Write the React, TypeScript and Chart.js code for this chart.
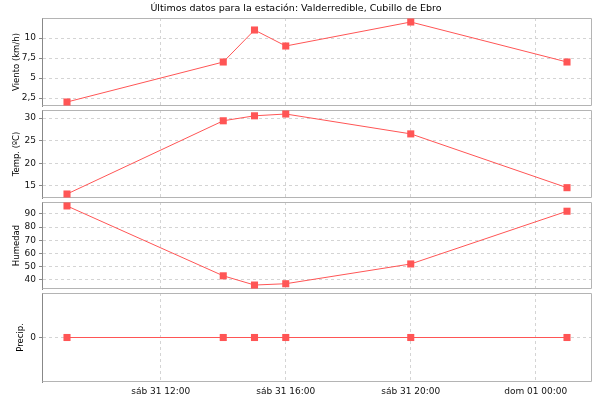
import React, { useEffect, useRef } from "react";
import { Chart, registerables } from "chart.js";

Chart.register(...registerables);

const TITLE = "Últimos datos para la estación: Valderredible, Cubillo de Ebro";

// hours since 00:00 of "sáb 31"
const hours = [9, 14, 15, 16, 20, 25];
const viento = [2, 7, 11, 9, 12, 7];
const temperatura = [13.2, 29.4, 30.5, 30.9, 26.5, 14.6];
const humedad = [96, 43, 36, 37, 52, 92];
const precipitacion = [0, 0, 0, 0, 0, 0];

const xTickValues = [12, 16, 20, 24];
const xTickLabels = ["sáb 31 12:00", "sáb 31 16:00", "sáb 31 20:00", "dom 01 00:00"];

const vientoTicks = [2.5, 5, 7.5, 10];
const vientoTickLabels = ["2,5", "5", "7,5", "10"];
const tempTicks = [15, 20, 25, 30];
const tempTickLabels = ["15", "20", "25", "30"];
const humTicks = [40, 50, 60, 70, 80, 90];
const humTickLabels = ["40", "50", "60", "70", "80", "90"];
const precipTicks = [0];
const precipTickLabels = ["0"];

const FONT = "'DejaVu Sans', Verdana, sans-serif";
const RED = "#ff5555";
const GRID = "#d4d4d4";
const FRAME = "#b4b4b4";
const TEXT = "#111";

const X_MIN = 8.2;
const X_MAX = 25.8;

type Panel = {
  label: string;
  values: number[];
  ticks: number[];
  tickLabels: string[];
  min: number;
  max: number;
  top: number;
  height: number;
  padTop: number;
  padBottom: number;
  titlePad: number;
  showTitle: boolean;
  showX: boolean;
};

function autoRange(vals: number[]): [number, number] {
  const lo = Math.min(...vals);
  const hi = Math.max(...vals);
  if (hi === lo) return [lo - 1, hi + 1];
  const m = (hi - lo) * 0.05;
  return [lo - m, hi + m];
}

const [vMin, vMax] = autoRange(viento);
const [tMin, tMax] = autoRange(temperatura);
const [hMin, hMax] = autoRange(humedad);
const [pMin, pMax] = autoRange(precipitacion);

const panels: Panel[] = [
  { label: "Viento (km/h)", values: viento, ticks: vientoTicks, tickLabels: vientoTickLabels, min: vMin, max: vMax, top: 0, height: 107, padTop: 0, padBottom: 1, titlePad: 12, showTitle: true, showX: false },
  { label: "Temp. (ºC)", values: temperatura, ticks: tempTicks, tickLabels: tempTickLabels, min: tMin, max: tMax, top: 109, height: 90, padTop: 1, padBottom: 1, titlePad: 12, showTitle: false, showX: false },
  { label: "Humedad", values: humedad, ticks: humTicks, tickLabels: humTickLabels, min: hMin, max: hMax, top: 201, height: 89, padTop: 1, padBottom: 1, titlePad: 12, showTitle: false, showX: false },
  { label: "Precip.", values: precipitacion, ticks: precipTicks, tickLabels: precipTickLabels, min: pMin, max: pMax, top: 292, height: 108, padTop: 1, padBottom: 0, titlePad: 16, showTitle: false, showX: true },
];

const framePlugin = {
  id: "frame",
  beforeDatasetsDraw(chart: any) {
    const { ctx, chartArea } = chart;
    const l = Math.round(chartArea.left) + 0.5;
    const t = Math.round(chartArea.top) + 0.5;
    const r = Math.round(chartArea.right) - 0.5;
    const b = Math.round(chartArea.bottom) - 0.5;
    ctx.save();
    ctx.strokeStyle = FRAME;
    ctx.lineWidth = 1;
    ctx.beginPath();
    ctx.moveTo(l, t);
    ctx.lineTo(r, t);
    ctx.lineTo(r, b);
    ctx.lineTo(l, b);
    ctx.stroke();
    ctx.restore();
  },
};

function zeroPad(scale: any) {
  scale.paddingTop = 0;
  scale.paddingBottom = 0;
  scale.paddingLeft = 0;
  scale.paddingRight = 0;
}

function PanelChart({ p }: { p: Panel }) {
  const ref = useRef<HTMLCanvasElement | null>(null);
  useEffect(() => {
    if (!ref.current) return;
    const chart = new Chart(ref.current, {
      type: "line",
      data: {
        datasets: [
          {
            label: p.label,
            data: hours.map((h, i) => ({ x: h, y: p.values[i] })),
            borderColor: RED,
            backgroundColor: RED,
            borderWidth: 1,
            pointStyle: "rect",
            pointRadius: 5,
            pointBorderWidth: 0,
            pointBackgroundColor: RED,
            tension: 0,
          },
        ],
      },
      options: {
        animation: false,
        responsive: false,
        events: [],
        layout: { padding: { top: p.padTop, bottom: p.padBottom, left: 0, right: 8 }, autoPadding: false },
        plugins: {
          legend: { display: false },
          tooltip: { enabled: false },
          title: {
            display: p.showTitle,
            text: TITLE,
            color: "#000",
            font: { family: FONT, size: 9.5, weight: "normal", lineHeight: 1.2 },
            padding: { top: 3, bottom: 3.6 },
          },
        },
        scales: {
          x: {
            type: "linear",
            min: X_MIN,
            max: X_MAX,
            afterBuildTicks: (scale: any) => {
              scale.ticks = xTickValues.map((v) => ({ value: v }));
            },
            afterFit: (scale: any) => {
              scale.height = p.showX ? 18 : 0;
              zeroPad(scale);
            },
            grid: { display: true, color: GRID, drawTicks: false, lineWidth: 1 },
            border: { display: false, dash: [3, 3] },
            ticks: {
              display: p.showX,
              autoSkip: false,
              maxRotation: 0,
              padding: 4,
              color: TEXT,
              font: { family: FONT, size: 9 },
              callback: (v: any) => {
                const i = xTickValues.indexOf(Number(v));
                return i >= 0 ? xTickLabels[i] : "";
              },
            },
          },
          y: {
            type: "linear",
            min: p.min,
            max: p.max,
            afterBuildTicks: (scale: any) => {
              scale.ticks = p.ticks.map((v) => ({ value: v }));
            },
            afterFit: (scale: any) => {
              scale.width = 42;
              zeroPad(scale);
            },
            grid: { display: true, color: GRID, drawTicks: true, tickLength: 3, tickColor: "#888", tickBorderDash: [] },
            border: { display: true, color: "#888", dash: [3, 3] },
            ticks: {
              autoSkip: false,
              padding: 3,
              color: TEXT,
              font: { family: FONT, size: 9 },
              callback: (v: any) => {
                const i = p.ticks.indexOf(Number(v));
                return i >= 0 ? p.tickLabels[i] : "";
              },
            },
            title: {
              display: true,
              text: p.label,
              color: "#000",
              font: { family: FONT, size: 8.5, lineHeight: 1.2 },
              padding: { top: p.titlePad, bottom: 0 },
            },
          },
        },
      },
      plugins: [framePlugin],
    } as any);
    return () => chart.destroy();
  }, [p]);
  return (
    <canvas
      ref={ref}
      width={600}
      height={p.height}
      style={{ position: "absolute", left: 0, top: p.top, width: 600, height: p.height }}
    />
  );
}

export default function App() {
  return (
    <div style={{ position: "fixed", left: 0, top: 0, width: 600, height: 400, background: "#fff", overflow: "hidden" }}>
      {panels.map((p) => (
        <PanelChart key={p.label} p={p} />
      ))}
    </div>
  );
}
